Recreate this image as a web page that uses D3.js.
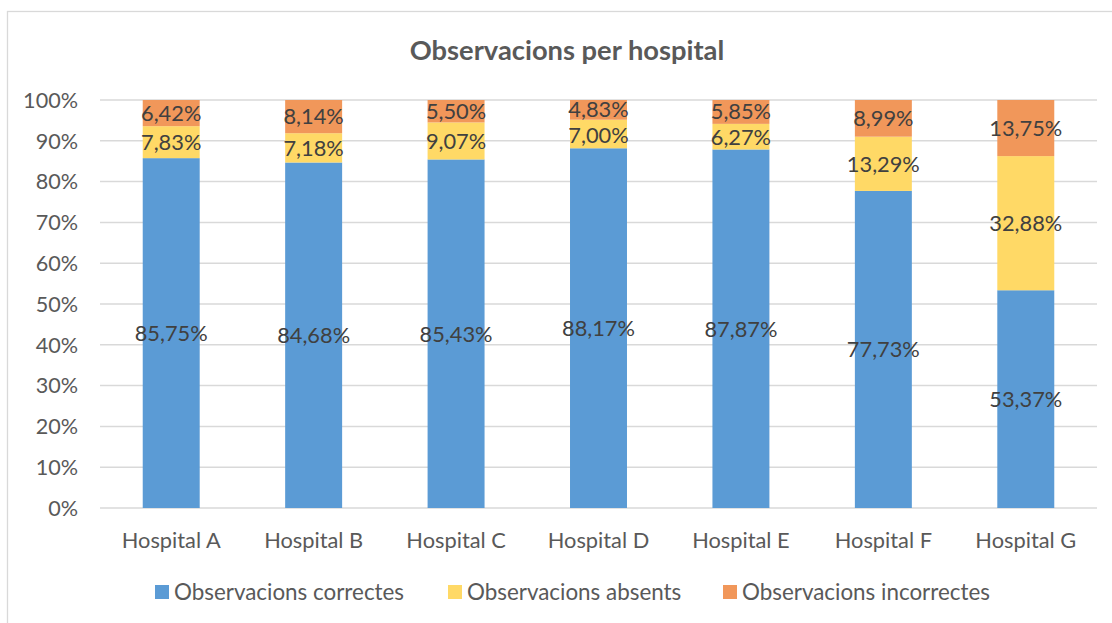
<!DOCTYPE html>
<html>
<head>
<meta charset="utf-8">
<script src="https://cdn.jsdelivr.net/npm/d3@7"></script>
<style>
  body { margin: 0; background: #ffffff; }
  svg text { font-family: Lato, "Open Sans", sans-serif; }
</style>
</head>
<body>
<div id="chart"></div>
<script>
var hospitals = ["Hospital A", "Hospital B", "Hospital C", "Hospital D", "Hospital E", "Hospital F", "Hospital G"];
var correctes = [85.75, 84.68, 85.43, 88.17, 87.87, 77.73, 53.37];
var absents = [7.83, 7.18, 9.07, 7.00, 6.27, 13.29, 32.88];
var incorrectes = [6.42, 8.14, 5.50, 4.83, 5.85, 8.99, 13.75];
var seriesNames = ["Observacions correctes", "Observacions absents", "Observacions incorrectes"];
var yTicks = [0, 0.1, 0.2, 0.3, 0.4, 0.5, 0.6, 0.7, 0.8, 0.9, 1];

function init() {
    var w = 1112;
    var h = 623;
    var colors = ["#5b9bd5", "#ffd966", "#f1975a"];

    var svg = d3.select("#chart")
        .append("svg")
        .attr("width", w)
        .attr("height", h);

    // chart border (runs past the right and bottom edge)
    svg.append("rect")
        .attr("x", 7.5).attr("y", 11.5)
        .attr("width", 1140).attr("height", 640)
        .attr("fill", "#fff")
        .attr("stroke", "#d9d9d9")
        .attr("stroke-width", 1.3);

    var x = d3.scaleBand()
        .domain(hospitals)
        .range([100, 1097])
        .paddingInner(0.6)
        .paddingOuter(0.3);

    var y = d3.scaleLinear().domain([0, 1]).range([508, 100]);

    var rows = hospitals.map(function(name, i) {
        var tot = correctes[i] + absents[i] + incorrectes[i];
        return {
            name: name,
            c: correctes[i] / tot, a: absents[i] / tot, n: incorrectes[i] / tot,
            lc: correctes[i], la: absents[i], ln: incorrectes[i]
        };
    });

    var stack = d3.stack().keys(["c", "a", "n"]);
    var stacked = stack(rows);
    var labelKeys = ["lc", "la", "ln"];

    // gridlines
    svg.append("g")
        .selectAll("line")
        .data(yTicks)
        .enter()
        .append("line")
        .attr("x1", 100).attr("x2", 1097)
        .attr("y1", function(d) { return y(d); })
        .attr("y2", function(d) { return y(d); })
        .attr("stroke", "#d9d9d9")
        .attr("stroke-width", 1.5);

    // y tick labels
    svg.append("g")
        .selectAll("text")
        .data(yTicks)
        .enter()
        .append("text")
        .attr("x", 78)
        .attr("y", function(d) { return y(d); })
        .attr("dy", "0.36em")
        .attr("text-anchor", "end")
        .style("font-size", "21.6px")
        .style("fill", "#595959")
        .text(d3.format(".0%"));

    var layers = svg.selectAll("g.layer")
        .data(stacked)
        .enter()
        .append("g")
        .attr("class", "layer")
        .attr("fill", function(d, i) { return colors[i]; });

    layers.selectAll("rect")
        .data(function(d) { return d; })
        .enter()
        .append("rect")
        .attr("x", function(d) { return x(d.data.name); })
        .attr("width", x.bandwidth())
        .attr("y", function(d) { return y(d[1]); })
        .attr("height", function(d) { return y(d[0]) - y(d[1]); });

    // label positions, centred in each segment; nudge apart when two are too close
    var minGap = 26;
    var labelY = stacked.map(function(layer) {
        return layer.map(function(d) { return y((d[0] + d[1]) / 2); });
    });
    for (var i = 0; i < hospitals.length; i++) {
        for (var k = 1; k < stacked.length; k++) {
            var gap = labelY[k - 1][i] - labelY[k][i];
            if (gap < minGap) {
                var push = (minGap - gap) / 2;
                labelY[k - 1][i] += push;
                labelY[k][i] -= push;
            }
        }
    }

    // data labels
    stacked.forEach(function(layer, k) {
        svg.append("g")
            .selectAll("text")
            .data(layer)
            .enter()
            .append("text")
            .attr("x", function(d) { return x(d.data.name) + x.bandwidth() / 2; })
            .attr("y", function(d, i) { return labelY[k][i]; })
            .attr("dy", "0.36em")
            .attr("text-anchor", "middle")
            .style("font-size", "21.8px")
            .style("fill", "#404040")
            .text(function(d) { return d.data[labelKeys[k]].toFixed(2).replace(".", ",") + "%"; });
    });

    // x labels
    svg.append("g")
        .selectAll("text")
        .data(hospitals)
        .enter()
        .append("text")
        .attr("x", function(d) { return x(d) + x.bandwidth() / 2; })
        .attr("y", 540)
        .attr("dy", "0.36em")
        .attr("text-anchor", "middle")
        .style("font-size", "21.8px")
        .style("fill", "#595959")
        .text(function(d) { return d; });

    // title
    svg.append("text")
        .attr("x", 567)
        .attr("y", 50)
        .attr("dy", "0.36em")
        .attr("text-anchor", "middle")
        .style("font-size", "27.3px")
        .style("font-weight", "bold")
        .style("fill", "#595959")
        .text("Observacions per hospital");

    // legend
    var legendX = [155, 448, 723];
    var legend = svg.selectAll("g.legend")
        .data(seriesNames)
        .enter()
        .append("g")
        .attr("class", "legend")
        .attr("transform", function(d, i) { return "translate(" + legendX[i] + ",592)"; });

    legend.append("rect")
        .attr("x", 0).attr("y", -7)
        .attr("width", 14).attr("height", 14)
        .attr("fill", function(d, i) { return colors[i]; });

    legend.append("text")
        .attr("x", 19)
        .attr("y", 0)
        .attr("dy", "0.36em")
        .style("font-size", "22.4px")
        .style("fill", "#595959")
        .text(function(d) { return d; });
}

window.onload = init;
</script>
</body>
</html>
